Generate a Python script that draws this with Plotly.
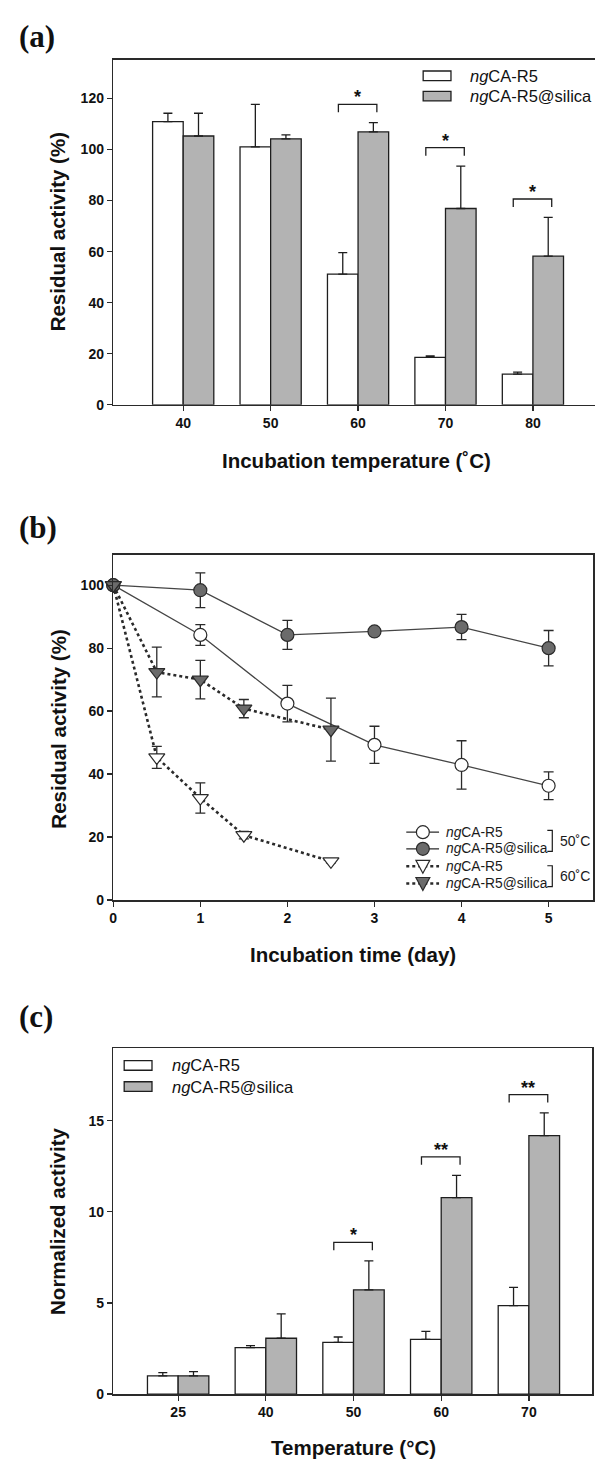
import plotly.graph_objects as go

W, H = 595, 1466

# ---------------- Data ----------------
# Panel (a): residual activity after incubation at temperature
temps_a = ["40", "50", "60", "70", "80"]
free_a = [110.9, 101.0, 51.2, 18.6, 12.0]
free_a_err = [3.3, 16.7, 8.4, 0.5, 0.8]
silica_a = [105.3, 104.2, 106.9, 76.9, 58.2]
silica_a_err = [8.9, 1.5, 3.6, 16.6, 15.2]
sig_a_idx = [2, 3, 4]
sig_a_txt = ["*", "*", "*"]

# Panel (b): residual activity vs incubation time
days_50 = [0, 1, 2, 3, 4, 5]
free_50 = [100, 84.2, 62.4, 49.3, 42.9, 36.3]
free_50_err = [0, 3.3, 5.8, 5.9, 7.7, 4.4]
silica_50 = [100, 98.4, 84.2, 85.3, 86.7, 80.0]
silica_50_err = [0, 5.5, 4.6, 1.0, 4.0, 5.6]
days_60 = [0, 0.5, 1, 1.5, 2.5]
free_60 = [100, 45.3, 32.4, 20.6, 12.3]
free_60_err = [0, 3.5, 4.8, 1.2, 0.5]
silica_60 = [100, 72.4, 70.0, 60.8, 54.1]
silica_60_err = [0, 7.9, 6.1, 2.9, 10.0]

# Panel (c): normalized activity vs temperature
temps_c = ["25", "40", "50", "60", "70"]
free_c = [1.0, 2.55, 2.83, 3.0, 4.85]
free_c_err = [0.18, 0.11, 0.3, 0.44, 1.0]
silica_c = [1.0, 3.06, 5.72, 10.78, 14.18]
silica_c_err = [0.23, 1.34, 1.59, 1.22, 1.24]
sig_c_idx = [2, 3, 4]
sig_c_txt = ["*", "**", "**"]

# ---------------- Geometry (pixels) ----------------
PA = dict(l=110, r=595, t=60, b=407, xr=[-0.80, 4.71], yr=[0, 135.2])
PB = dict(l=110, r=593, t=558, b=905, xr=[0, 5.51], yr=[0, 109.6])
PC = dict(l=110, r=592, t=1054, b=1401.7, xr=[-0.74, 4.72], yr=[0, 18.97])

FONT = "Liberation Sans"
LC = "#2a2a2a"


def px(x):
    return x / W


def py(y):
    return 1 - y / H


def unit_per_px(p):
    return (p["yr"][1] - p["yr"][0]) / (p["b"] - p["t"])


fig = go.Figure()

bar_line = dict(color="#1e1e1e", width=1.3)


def add_bars(cats, fv, fe, sv, se, xa, ya):
    for vals, errs, col in ((fv, fe, "white"), (sv, se, "#b3b3b3")):
        fig.add_trace(go.Bar(
            x=cats, y=vals, xaxis=xa, yaxis=ya, showlegend=False,
            marker=dict(color=col, line=bar_line),
            error_y=dict(type="data", array=errs, arrayminus=[0] * len(errs),
                         symmetric=False, color="#1e1e1e", thickness=1.3, width=4.5),
        ))


add_bars(temps_a, free_a, free_a_err, silica_a, silica_a_err, "x", "y")
add_bars(temps_c, free_c, free_c_err, silica_c, silica_c_err, "x3", "y3")

# Panel (b) lines
err_style = dict(type="data", color="#2a2a2a", thickness=1.3, width=5)
fig.add_trace(go.Scatter(
    x=days_50, y=free_50, xaxis="x2", yaxis="y2", mode="lines+markers", showlegend=False,
    line=dict(color="#454545", width=1.3),
    marker=dict(symbol="circle", size=13, color="white", line=dict(color="#2a2a2a", width=1.2)),
    error_y=dict(array=free_50_err, **err_style), cliponaxis=False))
fig.add_trace(go.Scatter(
    x=days_50, y=silica_50, xaxis="x2", yaxis="y2", mode="lines+markers", showlegend=False,
    line=dict(color="#454545", width=1.3),
    marker=dict(symbol="circle", size=13, color="#6b6b6b", line=dict(color="#2a2a2a", width=1.2)),
    error_y=dict(array=silica_50_err, **err_style), cliponaxis=False))
fig.add_trace(go.Scatter(
    x=days_60, y=free_60, xaxis="x2", yaxis="y2", mode="lines+markers", showlegend=False,
    line=dict(color="#2a2a2a", width=2.6, dash="dot"),
    marker=dict(symbol="triangle-down", size=14, color="white", line=dict(color="#2a2a2a", width=1.2)),
    error_y=dict(array=free_60_err, **err_style), cliponaxis=False))
fig.add_trace(go.Scatter(
    x=days_60, y=silica_60, xaxis="x2", yaxis="y2", mode="lines+markers", showlegend=False,
    line=dict(color="#2a2a2a", width=2.6, dash="dot"),
    marker=dict(symbol="triangle-down", size=14, color="#6b6b6b", line=dict(color="#2a2a2a", width=1.2)),
    error_y=dict(array=silica_60_err, **err_style), cliponaxis=False))

# ---------------- Axes ----------------
tickfont = dict(family=FONT, size=14, color="#111", weight="bold")


def xax(p, mirror=True, **kw):
    d = dict(domain=[px(p["l"]), px(p["r"])], range=p["xr"], showline=True, linecolor=LC,
             linewidth=1.5, mirror=mirror, ticks="outside", ticklen=5, tickwidth=1.3,
             tickcolor=LC, tickfont=tickfont, showgrid=False, zeroline=False, fixedrange=True)
    d.update(kw)
    return d


def yax(p, mirror=True, **kw):
    d = dict(domain=[py(p["b"]), py(p["t"])], range=p["yr"], showline=True, linecolor=LC,
             linewidth=1.5, mirror=mirror, ticks="outside", ticklen=5, tickwidth=1.3,
             tickcolor=LC, tickfont=tickfont, showgrid=False, zeroline=False, fixedrange=True)
    d.update(kw)
    return d


fig.update_layout(
    width=W, height=H, margin=dict(l=0, r=0, t=0, b=0),
    paper_bgcolor="white", plot_bgcolor="white",
    barmode="group", bargap=0.3, bargroupgap=0,
    xaxis=xax(PA, mirror=True, type="category", anchor="y"),
    yaxis=yax(PA, mirror=False, anchor="x", tickvals=[0, 20, 40, 60, 80, 100, 120]),
    xaxis2=xax(PB, anchor="y2", tickvals=[0, 1, 2, 3, 4, 5]),
    yaxis2=yax(PB, anchor="x2", tickvals=[0, 20, 40, 60, 80, 100]),
    xaxis3=xax(PC, type="category", anchor="y3"),
    yaxis3=yax(PC, anchor="x3", tickvals=[0, 5, 10, 15]),
)

shapes = []
annots = []


def text(x, y, s, size, anchor="center", angle=0, bold=False, family=FONT, color="#111"):
    annots.append(dict(xref="paper", yref="paper", x=px(x), y=py(y), text=s, showarrow=False,
                       xanchor=anchor, yanchor="middle", textangle=angle,
                       font=dict(family=family, size=size, color=color,
                                 weight="bold" if bold else "normal")))


# Panel labels
text(13, 37, "(a)", 31, anchor="left", bold=True, family="Liberation Serif")
text(13, 530, "(b)", 31, anchor="left", bold=True, family="Liberation Serif")
text(13, 1022, "(c)", 31, anchor="left", bold=True, family="Liberation Serif")

# Axis titles
TS = 20.5
text(54, 233, "Residual activity (%)", TS, angle=-90, bold=True)
text(355, 463, "Incubation temperature (˚C)", TS, bold=True)
text(54, 733, "Residual activity (%)", TS, angle=-90, bold=True)
text(351, 960, "Incubation time (day)", TS, bold=True)
text(54, 1228, "Normalized activity", TS, angle=-90, bold=True)
text(352, 1455, "Temperature (°C)", TS, bold=True)


# Significance brackets (anchored on bar + error top)
def brackets(p, xa, ya, idxs, txts, svals, serrs):
    u = unit_per_px(p)
    for i, t in zip(idxs, txts):
        top = svals[i] + serrs[i] + 18.5 * u
        drop = 8 * u
        shapes.append(dict(type="path", xref=xa, yref=ya, line=dict(color="#1e1e1e", width=1.3),
                           path=f"M {i - 0.225},{top - drop} L {i - 0.225},{top} L {i + 0.215},{top} L {i + 0.215},{top - drop}"))
        annots.append(dict(xref=xa, yref=ya, x=i - 0.005, y=top, text=t, showarrow=False,
                           yanchor="bottom", yshift=-5,
                           font=dict(family=FONT, size=18, color="#111", weight="bold")))


brackets(PA, "x", "y", sig_a_idx, sig_a_txt, silica_a, silica_a_err)
brackets(PC, "x3", "y3", sig_c_idx, sig_c_txt, silica_c, silica_c_err)


# Bar legends (a) and (c)
def bar_legend(x0, y_rows, tx, size):
    for (yy, col) in zip(y_rows, ("white", "#b3b3b3")):
        shapes.append(dict(type="rect", xref="paper", yref="paper",
                           x0=px(x0), x1=px(x0 + 28), y0=py(yy - 4.8), y1=py(yy + 4.8),
                           fillcolor=col, line=dict(color="#1e1e1e", width=1.3)))
    text(tx, y_rows[0], "<i>ng</i>CA-R5", size, anchor="left", color="#111")
    text(tx, y_rows[1], "<i>ng</i>CA-R5@silica", size, anchor="left", color="#111")


bar_legend(422, [76.2, 96.7], 467, 16.5)
bar_legend(121, [1071.3, 1092.5], 167, 16.5)

# Line legend (b)
rows = [836.7, 853.5, 871.0, 888.3]
lx0, lx1, mx = 405, 438, 421.7
styles = [("solid", "white", "circle"), ("solid", "#6b6b6b", "circle"),
          ("dot", "white", "tri"), ("dot", "#6b6b6b", "tri")]
labels = ["<i>ng</i>CA-R5", "<i>ng</i>CA-R5@silica", "<i>ng</i>CA-R5", "<i>ng</i>CA-R5@silica"]
for yy, (dash, col, sym), lab in zip(rows, styles, labels):
    shapes.append(dict(type="line", xref="paper", yref="paper", x0=px(lx0), x1=px(lx1),
                       y0=py(yy), y1=py(yy),
                       line=dict(color="#2a2a2a", width=1.3 if dash == "solid" else 2.4, dash=dash)))
    if sym == "circle":
        shapes.append(dict(type="circle", xref="paper", yref="paper",
                           x0=px(mx - 6.5), x1=px(mx + 6.5), y0=py(yy + 6.5), y1=py(yy - 6.5),
                           fillcolor=col, line=dict(color="#2a2a2a", width=1.2)))
    else:
        path = (f"M {px(mx - 7)},{py(yy - 6)} L {px(mx + 7)},{py(yy - 6)} "
                f"L {px(mx)},{py(yy + 7)} Z")
        shapes.append(dict(type="path", xref="paper", yref="paper", path=path,
                           fillcolor=col, line=dict(color="#2a2a2a", width=1.2)))
    text(443, yy, lab, 13.8, anchor="left", color="#1a1a1a")

for (ya, yb, lab) in ((835, 856, "50˚C"), (870.5, 891.5, "60˚C")):
    shapes.append(dict(type="path", xref="paper", yref="paper",
                       path=f"M {px(547)},{py(ya)} L {px(552)},{py(ya)} L {px(552)},{py(yb)} L {px(547)},{py(yb)}",
                       line=dict(color="#1a1a1a", width=1.2)))
    text(558, (ya + yb) / 2, lab, 14, anchor="left", color="#1a1a1a")

fig.update_layout(shapes=shapes, annotations=annots)

fig.write_html(
    "out.html",
    config={"displayModeBar": False, "staticPlot": True},
    post_script="document.body.style.margin='0';document.body.style.padding='0';"
                "document.body.style.overflow='hidden';"
                "document.documentElement.style.overflow='hidden';",
)
